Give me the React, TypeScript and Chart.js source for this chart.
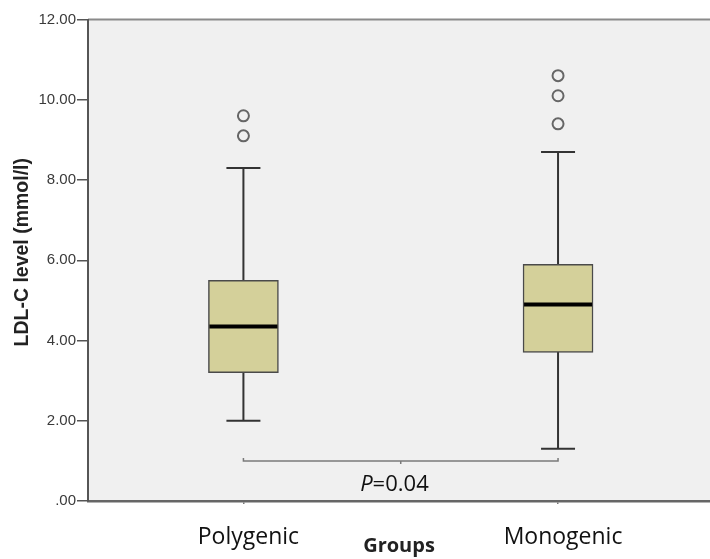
import React, { useEffect, useRef } from 'react';
import { Chart, registerables } from 'chart.js';

Chart.register(...registerables);

// ---- data ----
const categories = ['Polygenic', 'Monogenic'];
const whiskerLow = [2.0, 1.3];
const q1 = [3.2, 3.7];
const median = [4.35, 4.9];
const q3 = [5.5, 5.9];
const whiskerHigh = [8.3, 8.7];
const outliers = [
  [9.1, 9.6],
  [9.4, 10.1, 10.6],
];
const yTicks = [0, 2, 4, 6, 8, 10, 12];
const yTitle = 'LDL-C level (mmol/l)';
const xTitle = 'Groups';
const bracketY = 1.0;
const pLabelItalic = 'P';
const pLabelRest = '=0.04';
const pLabelY = 0.26;
const pLabelX = 1.48;
const yTitleCenterValue = 6.2;

const X_MIN = 0.506;
const X_MAX = 2.483;

const boxPlugin = {
  id: 'boxExtras',
  beforeDraw(chart: any) {
    const { ctx, chartArea: a } = chart;
    ctx.save();
    ctx.fillStyle = '#f0f0f0';
    ctx.fillRect(a.left, a.top, a.right - a.left, a.bottom - a.top);
    ctx.strokeStyle = '#8a8a8a';
    ctx.lineWidth = 2;
    ctx.beginPath();
    ctx.moveTo(a.left, a.top);
    ctx.lineTo(a.right, a.top);
    ctx.stroke();
    ctx.restore();
  },
  beforeDatasetsDraw(chart: any) {
    const { ctx } = chart;
    const xs = chart.scales.x;
    const ys = chart.scales.y;
    ctx.save();
    ctx.strokeStyle = '#333333';
    ctx.lineWidth = 2;
    categories.forEach((_, i) => {
      const cx = xs.getPixelForValue(i + 1);
      const yl = ys.getPixelForValue(whiskerLow[i]);
      const yh = ys.getPixelForValue(whiskerHigh[i]);
      ctx.beginPath();
      ctx.moveTo(cx, yl);
      ctx.lineTo(cx, yh);
      ctx.moveTo(cx - 17, yl);
      ctx.lineTo(cx + 17, yl);
      ctx.moveTo(cx - 17, yh);
      ctx.lineTo(cx + 17, yh);
      ctx.stroke();
    });
    ctx.restore();
  },
  afterDatasetsDraw(chart: any) {
    const { ctx } = chart;
    const xs = chart.scales.x;
    const ys = chart.scales.y;
    ctx.save();
    // medians
    ctx.strokeStyle = '#000000';
    ctx.lineWidth = 4;
    categories.forEach((_, i) => {
      const cx = xs.getPixelForValue(i + 1);
      const ym = ys.getPixelForValue(median[i]);
      ctx.beginPath();
      ctx.moveTo(cx - 34, ym);
      ctx.lineTo(cx + 34, ym);
      ctx.stroke();
    });
    // bracket
    const bx1 = xs.getPixelForValue(1);
    const bx2 = xs.getPixelForValue(2);
    const by = ys.getPixelForValue(bracketY);
    const bm = (bx1 + bx2) / 2;
    ctx.strokeStyle = '#7a7a7a';
    ctx.lineWidth = 1.5;
    ctx.beginPath();
    ctx.moveTo(bx1, by - 3);
    ctx.lineTo(bx1, by);
    ctx.lineTo(bx2, by);
    ctx.lineTo(bx2, by - 3);
    ctx.moveTo(bm, by);
    ctx.lineTo(bm, by + 3);
    ctx.stroke();
    // P label
    const px = xs.getPixelForValue(pLabelX);
    const py = ys.getPixelForValue(pLabelY);
    const fItal = "italic 22px 'Open Sans', sans-serif";
    const fNorm = "22px 'Open Sans', sans-serif";
    ctx.font = fItal;
    const w1 = ctx.measureText(pLabelItalic).width;
    ctx.font = fNorm;
    const w2 = ctx.measureText(pLabelRest).width;
    const start = px - (w1 + w2) / 2;
    ctx.fillStyle = '#111111';
    ctx.textBaseline = 'alphabetic';
    ctx.textAlign = 'left';
    ctx.font = fItal;
    ctx.fillText(pLabelItalic, start, py);
    ctx.font = fNorm;
    ctx.fillText(pLabelRest, start + w1, py);
    ctx.restore();
  },
  afterDraw(chart: any) {
    const { ctx } = chart;
    const ys = chart.scales.y;
    const cy = ys.getPixelForValue(yTitleCenterValue);
    ctx.save();
    ctx.translate(23, cy);
    ctx.rotate(-Math.PI / 2);
    ctx.font = "bold 19.5px 'Liberation Sans', Arial, sans-serif";
    ctx.fillStyle = '#222222';
    ctx.textAlign = 'center';
    ctx.textBaseline = 'middle';
    ctx.fillText(yTitle, 0, 0);
    ctx.restore();
  },
};

export default function App() {
  const ref = useRef<HTMLCanvasElement | null>(null);
  useEffect(() => {
    if (!ref.current) return;
    const boxData = categories.map((_, i) => ({ x: i + 1, y: [q1[i], q3[i]] }));
    const outlierData = outliers.flatMap((arr, i) => arr.map((v) => ({ x: i + 1, y: v })));
    const chart = new Chart(ref.current, {
      type: 'bar',
      data: {
        datasets: [
          {
            type: 'bar',
            data: boxData as any,
            backgroundColor: '#d4d09a',
            borderColor: '#4a4a4a',
            borderWidth: 1.5,
            borderSkipped: false,
            barThickness: 70,
          } as any,
          {
            type: 'scatter',
            data: outlierData as any,
            pointStyle: 'circle',
            pointRadius: 5.5,
            pointBorderWidth: 2,
            pointBorderColor: '#666666',
            pointBackgroundColor: '#f0f0f0',
          } as any,
        ],
      },
      plugins: [boxPlugin],
      options: {
        animation: false,
        responsive: false,
        devicePixelRatio: 1,
        layout: { autoPadding: false, padding: { top: 19.5, right: 0, left: 0, bottom: 0 } },
        plugins: { legend: { display: false }, tooltip: { enabled: false } },
        scales: {
          x: {
            type: 'linear',
            min: X_MIN,
            max: X_MAX,
            offset: false,
            afterBuildTicks: (axis: any) => {
              axis.ticks = categories.map((_, i) => ({ value: i + 1 }));
            },
            afterFit: (scale: any) => {
              scale.height = 58;
            },
            ticks: {
              callback: (v: any) => categories[Math.round(Number(v)) - 1] ?? '',
              font: { family: "'Open Sans', sans-serif", size: 23 },
              color: '#111111',
              padding: 20,
              labelOffset: 5,
              maxRotation: 0,
              autoSkip: false,
            },
            grid: {
              display: true,
              drawOnChartArea: false,
              drawTicks: true,
              tickLength: 3,
              color: '#777777',
              lineWidth: 1.5,
              offset: false,
            },
            border: { display: true, color: '#666666', width: 2.5 },
            title: {
              display: true,
              text: xTitle,
              font: { family: "'Open Sans', sans-serif", size: 20, weight: 'bold' },
              color: '#222222',
              padding: { top: 0, bottom: 1 },
            },
          },
          y: {
            type: 'linear',
            min: 0,
            max: 12,
            afterBuildTicks: (axis: any) => {
              axis.ticks = yTicks.map((v) => ({ value: v }));
            },
            afterFit: (scale: any) => {
              scale.width = 88;
            },
            ticks: {
              callback: (v: any) => (Number(v) === 0 ? '.00' : Number(v).toFixed(2)),
              font: { family: "'Liberation Sans', Arial, sans-serif", size: 15 },
              color: '#3a3a3a',
              padding: 1,
            },
            grid: {
              display: true,
              drawOnChartArea: false,
              drawTicks: true,
              tickLength: 11,
              color: '#555555',
              lineWidth: 1.5,
            },
            border: { display: true, color: '#555555', width: 2 },
            title: { display: false },
          },
        },
      } as any,
    });
    return () => chart.destroy();
  }, []);
  return (
    <div style={{ position: 'absolute', left: 0, top: 0, width: 710, height: 559, background: '#ffffff' }}>
      <canvas ref={ref} width={710} height={559} style={{ display: 'block' }} />
    </div>
  );
}
